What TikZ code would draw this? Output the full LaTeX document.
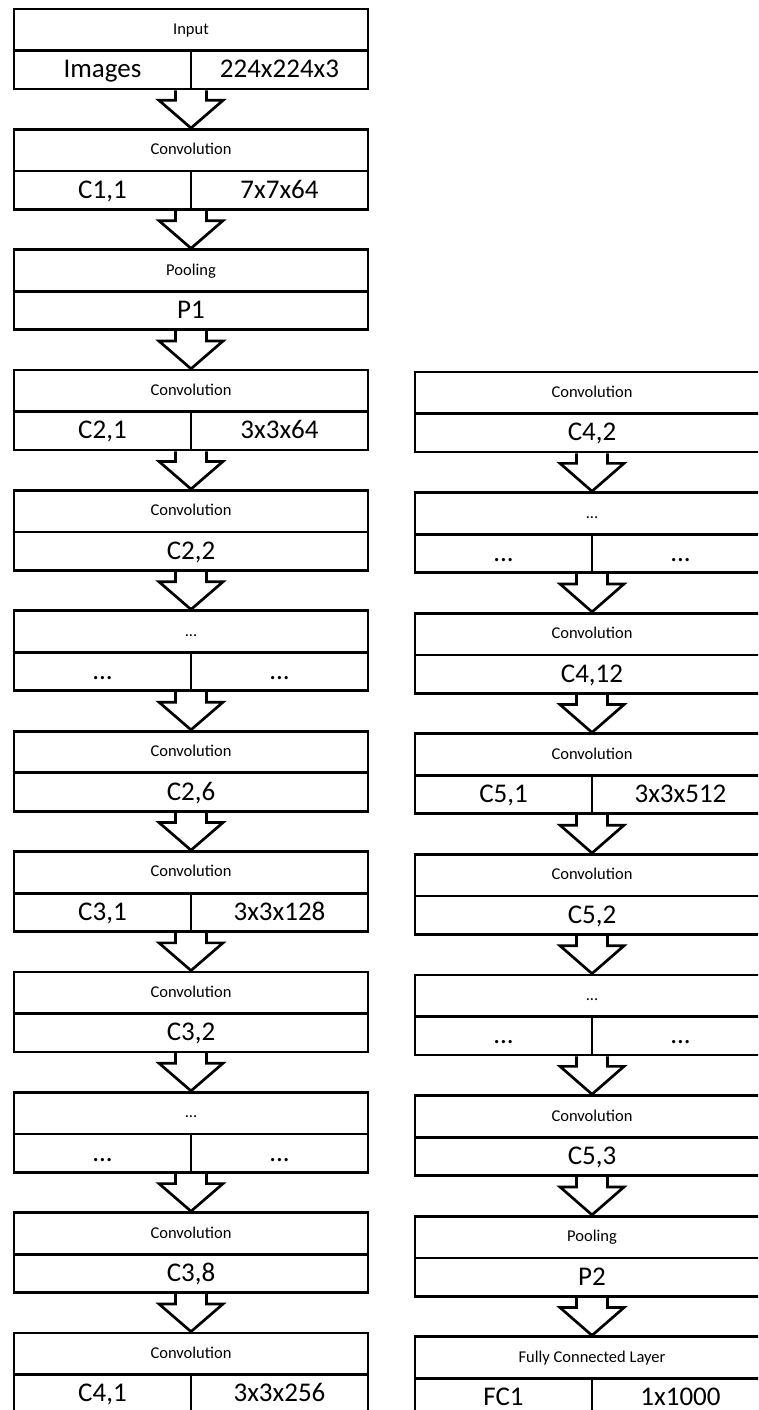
\documentclass[tikz,border=0pt]{standalone}
\usepackage{fontspec}
\setmainfont{Carlito}
\usetikzlibrary{calc}
\tikzset{
  ln/.style={line width=2.7pt, draw=black},
  box/.style={ln, rectangle, minimum width=354pt, minimum height=80pt, inner sep=0pt},
  toplbl/.style={inner sep=0pt, anchor=base, font=\fontsize{16.5}{18}\selectfont},
  botlbl/.style={inner sep=0pt, anchor=base, font=\fontsize{27}{30}\selectfont},
}
% single bottom label
\newcommand\layerone[5]{%
  \node[box] (#1) at (#2,#3+40) {};
  \draw[ln] ($(#1.north west)+(0,43)$) -- ($(#1.north east)+(0,43)$);
  \node[toplbl] (#1-t) at ($(#1.north)+(0,26.8)$) {#4};
  \node[botlbl] (#1-b) at ($(#1.north)+(0,70.2)$) {#5};
}
% split bottom label
\newcommand\layertwo[6]{%
  \node[box] (#1) at (#2,#3+40) {};
  \draw[ln] ($(#1.north west)+(0,43)$) -- ($(#1.north east)+(0,43)$);
  \draw[ln] ($(#1.north)+(0,43)$) -- (#1.south);
  \node[toplbl] (#1-t) at ($(#1.north)+(0,26.8)$) {#4};
  \node[botlbl] (#1-l) at ($(#1.north)+(-88.5,70.2)$) {#5};
  \node[botlbl] (#1-r) at ($(#1.north)+(88.5,70.2)$) {#6};
}
\newcommand\flow[2]{%
  \draw[ln] ($(#1.south)+(-15.5,0)$) -- ++(0,10) -- ++(-16.5,0) -- (#2.north)
    -- ($(#1.south)+(32,10)$) -- ++(-16.5,0) -- ++(0,-10);
}
\begin{document}
\begin{tikzpicture}[x=1pt,y=-1pt]
\useasboundingbox (0,0) rectangle (758,1410);
\clip (0,0) rectangle (758,1410);
% left column
\layertwo{L0}{191}{9}{Input}{Images}{224x224x3}
\layertwo{L1}{191}{129.36}{Convolution}{C1,1}{7x7x64}
\layerone{L2}{191}{249.72}{Pooling}{P1}
\layertwo{L3}{191}{370.08}{Convolution}{C2,1}{3x3x64}
\layerone{L4}{191}{490.44}{Convolution}{C2,2}
\layertwo{L5}{191}{610.8}{...}{...}{...}
\layerone{L6}{191}{731.16}{Convolution}{C2,6}
\layertwo{L7}{191}{851.52}{Convolution}{C3,1}{3x3x128}
\layerone{L8}{191}{971.88}{Convolution}{C3,2}
\layertwo{L9}{191}{1092.24}{...}{...}{...}
\layerone{L10}{191}{1212.6}{Convolution}{C3,8}
\layertwo{L11}{191}{1332.96}{Convolution}{C4,1}{3x3x256}
% right column
\layerone{R0}{592}{372}{Convolution}{C4,2}
\layertwo{R1}{592}{492.6}{...}{...}{...}
\layerone{R2}{592}{613.2}{Convolution}{C4,12}
\layertwo{R3}{592}{733.8}{Convolution}{C5,1}{3x3x512}
\layerone{R4}{592}{854.4}{Convolution}{C5,2}
\layertwo{R5}{592}{975}{...}{...}{...}
\layerone{R6}{592}{1095.6}{Convolution}{C5,3}
\layerone{R7}{592}{1216.2}{Pooling}{P2}
\layertwo{R8}{592}{1336.8}{Fully Connected Layer}{FC1}{1x1000}
% arrows
\flow{L0}{L1}\flow{L1}{L2}\flow{L2}{L3}\flow{L3}{L4}\flow{L4}{L5}
\flow{L5}{L6}\flow{L6}{L7}\flow{L7}{L8}\flow{L8}{L9}\flow{L9}{L10}\flow{L10}{L11}
\flow{R0}{R1}\flow{R1}{R2}\flow{R2}{R3}\flow{R3}{R4}\flow{R4}{R5}
\flow{R5}{R6}\flow{R6}{R7}\flow{R7}{R8}
\end{tikzpicture}
\end{document}
